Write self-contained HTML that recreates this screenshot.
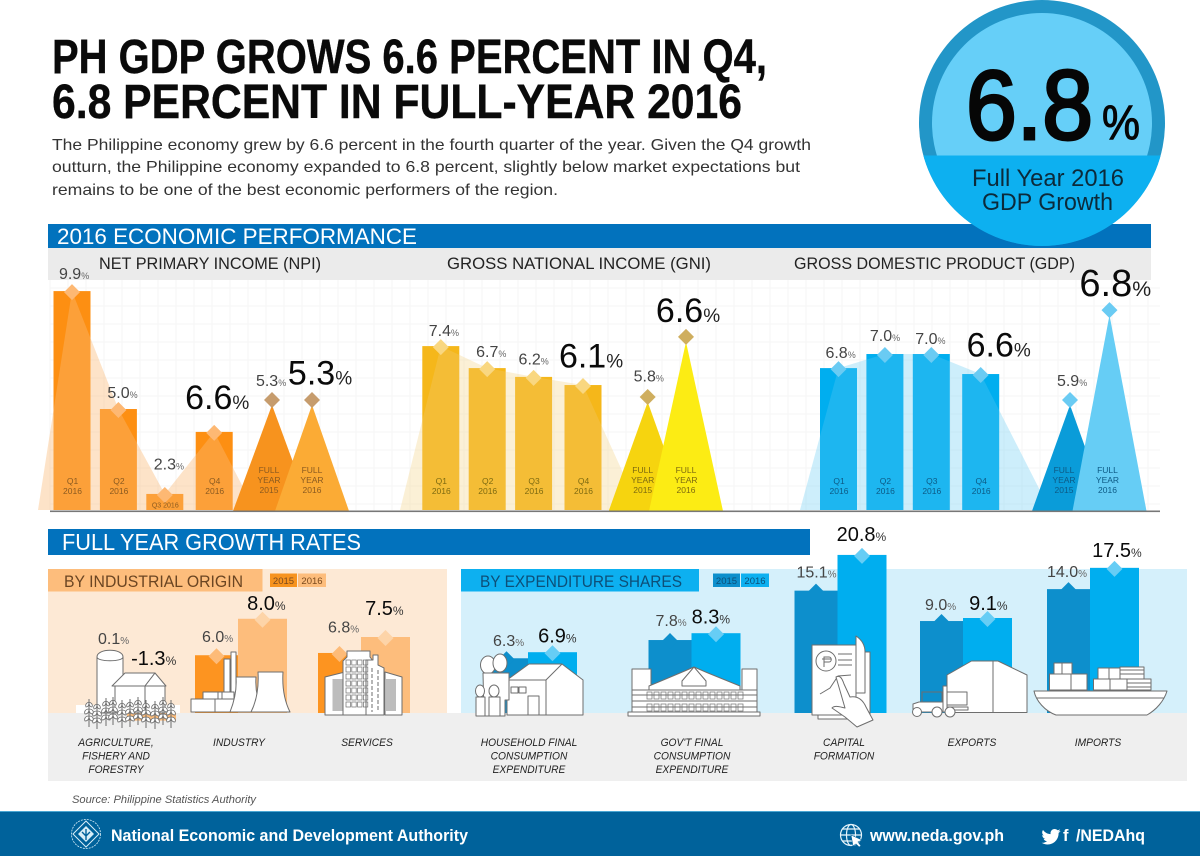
<!DOCTYPE html>
<html lang="en">
<head>
<meta charset="utf-8">
<title>PH GDP Grows 6.6 Percent in Q4</title>
<style>
html,body{margin:0;padding:0;background:#fff;width:1200px;height:856px;overflow:hidden}
svg{display:block;font-family:"Liberation Sans",sans-serif}
.ill{fill:#fff;stroke:#6e6e6e;stroke-width:1;stroke-linejoin:round}
.ill2{fill:none;stroke:#6e6e6e;stroke-width:1}
</style>
</head>
<body>
<svg xmlns="http://www.w3.org/2000/svg" width="1200" height="856" viewBox="0 0 1200 856">
<defs>
<g id="wheat-stalk">
<path d="M0 0V28" class="ill2"/>
<path d="M0 3c-3 1-4 3-3 5 2 0 3-2 3-5zM0 3c3 1 4 3 3 5-2 0-3-2-3-5zM0 10c-4 0-5 3-4 5 3 0 4-2 4-5zM0 10c4 0 5 3 4 5-3 0-4-2-4-5zM0 17c-4 0-5 3-4 5 3 0 4-2 4-5zM0 17c4 0 5 3 4 5-3 0-4-2-4-5z" fill="#fff" stroke="#6e6e6e" stroke-width=".8"/>
</g>
<clipPath id="badge-clip"><circle cx="1042" cy="123" r="123"/></clipPath>
</defs>

<text x="52" y="73" font-size="48" font-weight="700" fill="#0a0a0a" stroke="#0a0a0a" stroke-width=".4" textLength="715" lengthAdjust="spacingAndGlyphs">PH GDP GROWS 6.6 PERCENT IN Q4,</text>
<text x="52" y="118" font-size="48" font-weight="700" fill="#0a0a0a" stroke="#0a0a0a" stroke-width=".4" textLength="690" lengthAdjust="spacingAndGlyphs">6.8 PERCENT IN FULL-YEAR 2016</text>
<g fill="#333" font-size="16">
<text x="52" y="150" textLength="759" lengthAdjust="spacingAndGlyphs">The Philippine economy grew by 6.6 percent in the fourth quarter of the year. Given the Q4 growth</text>
<text x="52" y="172" textLength="748" lengthAdjust="spacingAndGlyphs">outturn, the Philippine economy expanded to 6.8 percent, slightly below market expectations but</text>
<text x="52" y="195" textLength="506" lengthAdjust="spacingAndGlyphs">remains to be one of the best economic performers of the region.</text>
</g>

<rect x="48" y="224" width="1103" height="24" fill="#0272bd"/>
<rect x="48" y="248" width="1103" height="32" fill="#ebebeb"/>
<text x="57" y="244" font-size="22" fill="#fff" textLength="360" lengthAdjust="spacingAndGlyphs">2016 ECONOMIC PERFORMANCE</text>

<g id="gridLayer"></g>

<text x="99" y="269" font-size="16.5" fill="#222" textLength="222" lengthAdjust="spacingAndGlyphs">NET PRIMARY INCOME (NPI)</text>
<text x="447" y="269" font-size="16.5" fill="#222" textLength="264" lengthAdjust="spacingAndGlyphs">GROSS NATIONAL INCOME (GNI)</text>
<text x="794" y="269" font-size="16.5" fill="#222" textLength="281" lengthAdjust="spacingAndGlyphs">GROSS DOMESTIC PRODUCT (GDP)</text>

<g id="quarterLayer"></g>
<rect x="50" y="510.5" width="1110" height="1.6" fill="#777"/>

<g>
<circle cx="1042" cy="123" r="123" fill="#2296c8"/>
<circle cx="1042" cy="123" r="110" fill="#66cff8"/>
<rect x="919" y="155.5" width="246" height="92" fill="#0db0f0" clip-path="url(#badge-clip)"/>
<text x="966" y="139" font-size="98" fill="#060606" stroke="#060606" stroke-width="3" textLength="127" lengthAdjust="spacingAndGlyphs">6.8</text>
<text x="1102" y="139" font-size="48" fill="#060606" stroke="#060606" stroke-width="1" textLength="38" lengthAdjust="spacingAndGlyphs">%</text>
<text x="972" y="186" font-size="24" fill="#0c2a3a" textLength="152" lengthAdjust="spacingAndGlyphs">Full Year 2016</text>
<text x="982" y="210" font-size="24" fill="#0c2a3a" textLength="131" lengthAdjust="spacingAndGlyphs">GDP Growth</text>
</g>

<rect x="48" y="529" width="762" height="26" fill="#0272bd"/>
<text x="62" y="550" font-size="23" fill="#fff" textLength="299" lengthAdjust="spacingAndGlyphs">FULL YEAR GROWTH RATES</text>

<rect x="48" y="569" width="399" height="144" fill="#fde9d5"/>
<rect x="461" y="569" width="726" height="144" fill="#d5f0fb"/>
<rect x="48" y="713" width="1139" height="68" fill="#efefef"/>
<rect x="48" y="569" width="214.5" height="22.5" fill="#fdbd7c"/>
<rect x="461" y="569" width="238" height="22.5" fill="#0db0f0"/>
<text x="64" y="587" font-size="17" fill="#6b4522" textLength="179" lengthAdjust="spacingAndGlyphs">BY INDUSTRIAL ORIGIN</text>
<text x="480" y="587" font-size="17" fill="#0d4f78" textLength="202" lengthAdjust="spacingAndGlyphs">BY EXPENDITURE SHARES</text>

<g>
<rect x="270" y="573.5" width="27" height="13.5" fill="#f7931e"/>
<rect x="298" y="573.5" width="28" height="13.5" fill="#fdbd7c"/>
<text x="283.5" y="584" font-size="9.5" text-anchor="middle" fill="#7a4a1e">2015</text>
<text x="312" y="584" font-size="9.5" text-anchor="middle" fill="#7a4a1e">2016</text>
</g>
<g>
<rect x="713" y="573.5" width="27" height="13.5" fill="#0d8fcc"/>
<rect x="741" y="573.5" width="28" height="13.5" fill="#0db0f0"/>
<text x="726.5" y="584" font-size="9.5" text-anchor="middle" fill="#0d4f78">2015</text>
<text x="755" y="584" font-size="9.5" text-anchor="middle" fill="#0d4f78">2016</text>
</g>

<g id="growthBars"></g>

<rect x="76" y="705" width="104" height="8" fill="#fff"/>

<g>
<path class="ill" d="M97 713V657c0-9 26-9 26 0V713z"/><path class="ill2" d="M97 657c0 5 26 5 26 0"/>
<path class="ill" d="M115 686H165V713H115z"/>
<path class="ill" d="M112 686L125 673H155L145 686z"/><path class="ill" d="M145 686L155 673L166 686z"/>
<path class="ill2" d="M145 686V713"/>
<use href="#wheat-stalk" x="89" y="699"/><use href="#wheat-stalk" x="97" y="701"/><use href="#wheat-stalk" x="106" y="698"/><use href="#wheat-stalk" x="113" y="697"/><use href="#wheat-stalk" x="122" y="700"/><use href="#wheat-stalk" x="130" y="699"/><use href="#wheat-stalk" x="138" y="697"/><use href="#wheat-stalk" x="146" y="700"/><use href="#wheat-stalk" x="155" y="701"/><use href="#wheat-stalk" x="163" y="697"/><use href="#wheat-stalk" x="171" y="700"/>
</g>

<g>
<path class="ill" d="M224 659H230V700H224z"/><path class="ill" d="M231 652H236V700H231z"/>
<path class="ill" d="M203 692H222V700H203zM218 692H234V700H218z"/>
<path class="ill" d="M191 699H215V712H191zM215 699H238V712H215z"/>
<path class="ill" d="M236 677H256C255 690 258 702 263 712H230C234 702 237 690 236 677z"/>
<path class="ill" d="M258 672H283C282 688 285 702 290 712H251C256 702 259 688 258 672z"/>
</g>

<g>
<path class="ill" d="M325 677L345 672V715H325z"/>
<path class="ill" d="M385 672L402 677V715H385z"/>
<rect x="332.500" y="679" width="10" height="32" fill="#bdbdbd"/>
<rect x="386" y="679" width="10" height="32" fill="#bdbdbd"/>
<path class="ill" d="M343 661L347 657V651H370V657L373 661V715H343z"/>
<path class="ill" d="M366 660H373V655H378V665L384 668V715H366z"/>
<path class="ill2" d="M372 668V712M378 670V712" stroke-dasharray="4 2"/>
<g id="cityWindows"></g>
</g>

<g>
<path class="ill" d="M507 680L529 664H562L583 680V715H507z"/>
<path class="ill2" d="M546 715V680L562 664M507 680H546"/>
<path class="ill" d="M528 696H539V715H528zM511 687H518V693H511zM519 687H526V693H519z"/>
<ellipse class="ill" cx="488" cy="665" rx="7.5" ry="9"/><ellipse class="ill" cx="500" cy="663" rx="7" ry="9"/>
<path class="ill" d="M483 673H509V700H505V716H499V700H490V716H484z"/>
<ellipse class="ill" cx="480" cy="691" rx="4.5" ry="6"/><ellipse class="ill" cx="494" cy="691" rx="5" ry="6"/>
<path class="ill" d="M476 697H485V716H476zM489 697H500V716H489z"/>
</g>

<g>
<path class="ill" d="M632 669H651V692H632zM742 669H757V692H742z"/>
<path class="ill" d="M649 686L680 673L694 667L708 673L740 686V692H649z"/>
<path class="ill" d="M682 681L694 667L706 681V686H682z"/>
<path class="ill" d="M632 690H757V712H632z"/>
<path class="ill2" d="M632 695H757M632 701H757M632 707H757"/>
<path class="ill" d="M628 712H760V716H628z"/>
<g id="govWindows"></g>
</g>

<g>
<path class="ill" d="M818 719H870V652H818z"/>
<path class="ill" d="M812 645H856V715H812z"/>
<path class="ill" d="M856 636C862 640 865 645 865 652V693H856z"/>
<circle class="ill" cx="826" cy="661" r="10"/>
<path class="ill2" d="M824 667V657H829C832 657 832 662 829 662H824M822 659H831"/>
<path class="ill2" d="M838 654H852M838 660H852M838 665H852"/>
<path class="ill2" d="M820 694L830 688L838 676L851 675"/>
<path class="ill" d="M836 677C840 675 842 678 844 684L850 697C856 696 862 698 866 707L873 720L857 727L845 717L832 708C835 705 840 707 845 708z"/>
</g>

<g>
<path class="ill" d="M947 675L971.500 661H998L1027 675V712.500H947z"/>
<path class="ill2" d="M993 661V712.500"/>
<path class="ill" d="M947 692H967V705H947z"/>
<path d="M922 692H942V708H922z" fill="none" stroke="#6e6e6e"/>
<path class="ill" d="M913 712V704L919 702H946V712z"/>
<path class="ill" d="M943 686H947V712H943z"/>
<path class="ill" d="M947 707H968V710H947z"/>
<circle class="ill" cx="917" cy="712" r="4.500"/><circle class="ill" cx="937" cy="712" r="5"/><circle class="ill" cx="950" cy="712" r="5"/>
</g>

<g>
<path class="ill" d="M1049.500 674H1087V690H1049.500z"/>
<path class="ill2" d="M1071 674V690"/>
<path class="ill" d="M1054 663H1062V674H1054zM1062 663H1072V674H1062z"/>
<path class="ill" d="M1120 667H1144V679H1120z"/><path class="ill" d="M1127 679H1151V690H1127z"/>
<path class="ill2" d="M1120 670H1144M1120 674H1144M1127 683H1151M1127 687H1151"/>
<path class="ill" d="M1098 668H1120V679H1098z"/><path class="ill2" d="M1109 668V679"/>
<path class="ill" d="M1093.500 679H1127V690H1093.500z"/><path class="ill2" d="M1110 679V690"/>
<path class="ill" d="M1034 691H1167C1164 701 1156 710 1147 715H1056C1045 711 1036 701 1034 691z"/>
<path class="ill2" d="M1037 698H1164"/>
</g>

<g id="growthLabels"></g>

<text x="72" y="803" font-size="11" font-style="italic" fill="#555" textLength="184" lengthAdjust="spacingAndGlyphs">Source: Philippine Statistics Authority</text>

<rect x="0" y="811" width="1200" height="45" fill="#00629b"/>
<rect x="0" y="811" width="1200" height="1" fill="#4aa7d4"/>
<g fill="none" stroke="#d8eef8">
<circle cx="86" cy="834" r="14.5" stroke-width=".8" stroke-dasharray="2 1"/>
<path d="M86 821L99 834L86 847L73 834z" stroke-width="1"/>
<path d="M86 826L94 834L86 842L78 834z" fill="#d8eef8" stroke="none"/>
<path d="M86 829V840M82 832L86 836L90 832" stroke="#00629b" stroke-width="1.4"/>
</g>
<text x="111" y="841" font-size="16.5" font-weight="700" fill="#fff" textLength="357" lengthAdjust="spacingAndGlyphs">National Economic and Development Authority</text>
<g fill="none" stroke="#e8f5fb" stroke-width="1.2">
<circle cx="851" cy="835" r="10.5"/><ellipse cx="851" cy="835" rx="4.5" ry="10.5"/><path d="M840.5 835H861.5M842 829H860M842 841H860"/>
<path d="M851 835L862 840L858 842L861 846L859 847L856 844L853 846z" fill="#fff" stroke="#00629b" stroke-width=".6"/>
</g>
<text x="870" y="841" font-size="16.5" font-weight="700" fill="#fff" textLength="134" lengthAdjust="spacingAndGlyphs">www.neda.gov.ph</text>
<path d="M1043 830c2 2.600 4.500 4 7.600 4.100-.5-2.900 1.500-5.100 4-5.100 1.200 0 2.300.5 3 1.300.9-.2 1.800-.5 2.500-1-.3 1-.9 1.700-1.700 2.200.8-.1 1.500-.3 2.200-.6-.5.800-1.200 1.500-2 2 .2 6-4.300 11.600-11 11.600-2.200 0-4.200-.6-5.900-1.700 1.900.2 3.800-.3 5.300-1.500-1.600 0-2.900-1.100-3.400-2.500.5.100 1.100.1 1.600-.1-1.700-.4-3-1.900-3-3.700.5.300 1.100.5 1.600.5-1.600-1.100-2.100-3.300-1.100-5z" fill="#fff"/>
<text x="1063" y="841" font-size="16.5" font-weight="700" fill="#fff">f</text>
<text x="1076" y="841" font-size="16.5" font-weight="700" fill="#fff" textLength="69" lengthAdjust="spacingAndGlyphs">/NEDAhq</text>

<script>
// ---- Quarterly charts: levels; printed values as labelled ----
const quarterCategories = [['Q1','2016'],['Q2','2016'],['Q3','2016'],['Q4','2016']];
const fullYearCategories = [['FULL','YEAR','2015'],['FULL','YEAR','2016']];
const npiQuarterLevels = [9.95, 4.59, 0.73, 3.55];
const npiYearLevels = [4.77, 4.77];
const npiQuarterPrinted = ['9.9','5.0','2.3','6.6'];
const npiYearPrinted = ['5.3','5.3'];
const gniQuarterLevels = [7.45, 6.45, 6.05, 5.68];
const gniYearLevels = [4.91, 7.64];
const gniQuarterPrinted = ['7.4','6.7','6.2','6.1'];
const gniYearPrinted = ['5.8','6.6'];
const gdpQuarterLevels = [6.45, 7.09, 7.09, 6.18];
const gdpYearLevels = [4.77, 8.86];
const gdpQuarterPrinted = ['6.8','7.0','7.0','6.6'];
const gdpYearPrinted = ['5.9','6.8'];

// ---- Full-year growth charts ----
const growthCategories = [['AGRICULTURE,','FISHERY AND','FORESTRY'],['INDUSTRY'],['SERVICES'],['HOUSEHOLD FINAL','CONSUMPTION','EXPENDITURE'],["GOV'T FINAL",'CONSUMPTION','EXPENDITURE'],['CAPITAL','FORMATION'],['EXPORTS'],['IMPORTS']];
const growthLevels2015 = [0.1, 7.6, 7.9, 7.2, 9.6, 16.1, 12.1, 16.3];
const growthLevels2016 = [-1.0, 12.4, 10.0, 8.0, 10.5, 20.8, 12.5, 19.1];
const growthPrinted2015 = ['0.1','6.0','6.8','6.3','7.8','15.1','9.0','14.0'];
const growthPrinted2016 = ['-1.3','8.0','7.5','6.9','8.3','20.8','9.1','17.5'];

const NS = 'http://www.w3.org/2000/svg';
function make(parent, tag, attrs, txt) {
  const n = document.createElementNS(NS, tag);
  for (const k in attrs) n.setAttribute(k, attrs[k]);
  if (txt !== undefined) n.textContent = txt;
  parent.appendChild(n);
  return n;
}
const baseQuarter = 510;
const baseGrowth = 713;
const yQuarter = v => baseQuarter - v * 22;
const yGrowth = v => baseGrowth - v * 7.6;
const xQuarter = (x0, i) => x0 + i * 46.4 + (i === 3 ? 3 : 0);

// Background grid
const gridLayer = document.getElementById('gridLayer');
for (let gx = 50; gx <= 1160; gx += 18) {
  const gl = make(gridLayer, 'line', {x1: gx, x2: gx, y1: 280, y2: 510, stroke: '#f6f6f6', 'stroke-width': 1});
  
  
}
for (let gy = 288; gy <= 510; gy += 18) {
  const gl = make(gridLayer, 'line', {x1: 50, x2: 1160, y1: gy, y2: gy, stroke: '#f6f6f6', 'stroke-width': 1});
  
  
}

function valueLabel(parent, cx, cy, printed, size, pctSize, color, pctColor) {
  const w = printed.length * size * 0.5 + pctSize * 0.9;
  const t = make(parent, 'text', {x: cx - w / 2, y: cy + size * 0.36, 'font-size': size, fill: color});
  make(t, 'tspan', {}, printed);
  make(t, 'tspan', {'font-size': pctSize, fill: pctColor}, '%');
  return t;
}
function diamond(parent, cx, cy, half, fill) {
  return make(parent, 'polygon', {points: [cx, cy - half, cx + half, cy, cx, cy + half, cx - half, cy].join(' '), fill: fill});
}

function drawQuarterPanel(key, cfg, levels, yearLevels, printed, yearPrinted) {
  const g = make(document.getElementById('quarterLayer'), 'g', {});
  
  
  const tops = levels.map((v, i) => [xQuarter(cfg.x0, i) + 18.5, yQuarter(v)]);
  const pts = [[cfg.left, baseQuarter]].concat(tops, [[cfg.right, baseQuarter]]).map(p => p.join(',')).join(' ');
  levels.forEach((v, i) => {
    const bar = make(g, 'rect', {x: xQuarter(cfg.x0, i), y: yQuarter(v), width: 37, height: baseQuarter - yQuarter(v), fill: cfg.bar});
    
    
  });
  const veil = make(g, 'polygon', {points: pts, fill: cfg.veil});
  
  
  yearLevels.forEach((v, i) => {
    const ax = cfg.yearX[i];
    const tri = make(g, 'polygon', {points: [ax - cfg.yearHalf[i], baseQuarter + 1, ax, yQuarter(v), ax + cfg.yearHalf[i], baseQuarter + 1].join(' '), fill: cfg.yearFill[i]});
    
    
  });
  tops.forEach((p, i) => {
    const d = diamond(g, p[0], p[1] + 1, 8, cfg.diamond);
    
    
  });
  yearLevels.forEach((v, i) => {
    const d = diamond(g, cfg.yearX[i], yQuarter(v) - 5, 8, cfg.yearDiamond);
    
    
  });
  // Category captions inside the marks
  quarterCategories.forEach((c, i) => {
    const cx = xQuarter(cfg.x0, i) + 19;
    if (levels[i] < 1.5) {
      const t = make(g, 'text', {x: cx, y: 507.5, 'font-size': 7, 'text-anchor': 'middle', fill: cfg.caption}, c.join(' '));
      
      
    } else {
      c.forEach((line, j) => {
        const t = make(g, 'text', {x: cx, y: 484 + j * 10, 'font-size': 8.5, 'text-anchor': 'middle', fill: cfg.caption}, line);
        
        
      });
    }
  });
  fullYearCategories.forEach((c, i) => {
    c.forEach((line, j) => {
      const t = make(g, 'text', {x: cfg.yearX[i] + cfg.yearCaptionDx[i], y: 473 + j * 10, 'font-size': 8.5, 'text-anchor': 'middle', fill: cfg.caption}, line);
      
      
    });
  });
  // Value labels
  printed.forEach((p, i) => {
    const big = i === 3;
    const n = cfg.nudge[i];
    const t = big ? valueLabel(g, tops[i][0] + n[0], tops[i][1] + n[1], p, 34, 19, '#0a0a0a', '#222')
                  : valueLabel(g, tops[i][0] + n[0], tops[i][1] + n[1], p, 16, 9, '#444', '#666');
    
    
  });
  yearPrinted.forEach((p, i) => {
    const big = i === 1;
    const n = cfg.yearNudge[i];
    const s = big ? cfg.bigSize : 16;
    const t = valueLabel(g, cfg.yearX[i] + n[0], yQuarter(yearLevels[i]) + n[1], p, s, big ? s * 0.56 : 9, big ? '#0a0a0a' : '#444', big ? '#222' : '#666');
    
    
  });
}

drawQuarterPanel('npi', {
  x0: 53.5, left: 38, right: 255, bar: '#fd8f12', veil: 'rgba(250,185,117,.4)', diamond: '#fdb873',
  yearX: [272, 312], yearHalf: [39, 37], yearFill: ['#f7931e', '#fbab35'], yearDiamond: '#c69c6d', yearCaptionDx: [-3, 0], caption: '#8a5a20', bigSize: 34,
  nudge: [[3, -18], [5, -17], [5, -30], [5, -35]], yearNudge: [[0, -25], [10, -33]]
}, npiQuarterLevels, npiYearLevels, npiQuarterPrinted, npiYearPrinted);

drawQuarterPanel('gni', {
  x0: 422.3, left: 400, right: 640, bar: '#f5b71a', veil: 'rgba(241,205,118,.3)', diamond: '#f9d780',
  yearX: [647.7, 686], yearHalf: [39, 37], yearFill: ['#f6d40f', '#fcec14'], yearDiamond: '#cfae5e', yearCaptionDx: [-5, 0], caption: '#7d6a10', bigSize: 34,
  nudge: [[4, -16], [5, -17], [1, -18], [10, -30]], yearNudge: [[2, -26], [4, -32]]
}, gniQuarterLevels, gniYearLevels, gniQuarterPrinted, gniYearPrinted);

drawQuarterPanel('gdp', {
  x0: 820, left: 800, right: 1050, bar: '#00aeef', veil: 'rgba(94,200,242,.31)', diamond: '#6acbf3',
  yearX: [1070, 1109.5], yearHalf: [38, 37], yearFill: ['#0a9cd9', '#66cdf5'], yearDiamond: '#6acbf3', yearCaptionDx: [-6, -2], caption: '#0d5a85', bigSize: 38,
  nudge: [[3, -16], [1, -19], [0, -16], [20, -30]], yearNudge: [[3, -25], [8, -33]]
}, gdpQuarterLevels, gdpYearLevels, gdpQuarterPrinted, gdpYearPrinted);

// Full-year growth bars and labels
function drawGrowth() {
  const barsG = document.getElementById('growthBars');
  const labelsG = document.getElementById('growthLabels');
  const groupLeft = [84, 195, 318, 485, 648.5, 794.5, 920, 1047];
  const captionX = [116, 239, 367, 529, 692, 844, 972, 1098];
  const nudge2015 = [[9, 0], [2, -19], [5, -26], [3, -18], [2, -20], [1, -19], [0, -17], [-1, -18]];
  const nudge2016 = [[5, -55], [5, -16], [0, -29], [6, -17], [-4, -17], [0, -21], [2, -15], [3, -18]];
  growthCategories.forEach((cat, i) => {
    const warm = i < 3;
    const x15 = groupLeft[i], x16 = x15 + 43;
    const v15 = growthLevels2015[i], v16 = growthLevels2016[i];
    const c15 = warm ? '#fd9420' : '#0d8fcc', c16 = warm ? '#fdbd7c' : '#00aeef';
    const d15 = warm ? '#fdbb78' : '#0d8fcc', d16 = warm ? '#fdd4a8' : '#66cdf5';
    const key = cat[0].toLowerCase().replace(/[^a-z]+/g, '-').replace(/-$/, '');
    const bar15 = make(barsG, 'rect', {x: x15, y: Math.min(yGrowth(v15), baseGrowth), width: 43, height: Math.abs(baseGrowth - yGrowth(v15)), fill: c15});
    
    
    const bar16 = make(barsG, 'rect', {x: x16, y: Math.min(yGrowth(v16), baseGrowth), width: 49, height: Math.abs(baseGrowth - yGrowth(v16)), fill: c16});
    
    
    if (v15 > 1) {
      const m = diamond(barsG, x15 + 21.5, yGrowth(v15) + 1, 8, d15);
      
      
    }
    if (v16 > 1) {
      const m = diamond(barsG, x16 + 24.5, yGrowth(v16) + 1, 8, d16);
      
      
    }
    const a = nudge2015[i], b = nudge2016[i];
    const anchor15 = i === 0 ? 638 - a[1] : yGrowth(v15);
    const t15 = valueLabel(labelsG, x15 + 21.5 + a[0], anchor15 + a[1], growthPrinted2015[i], 16, 10, '#444', '#666');
    
    
    const t16 = valueLabel(labelsG, x16 + 24.5 + b[0], (i === 0 ? 713 : yGrowth(v16)) + b[1], growthPrinted2016[i], 20, 12, '#0a0a0a', '#333');
    
    
    cat.forEach((line, j) => {
      const t = make(labelsG, 'text', {x: captionX[i], y: 746 + j * 13.5, 'font-size': 11, 'font-style': 'italic', 'text-anchor': 'middle', fill: '#222'}, line);
      
      
      t.setAttribute('textLength', (t.getComputedTextLength() * 0.93).toFixed(1));
      t.setAttribute('lengthAdjust', 'spacingAndGlyphs');
    });
  });
}
drawGrowth();

// Decorative window grids on the illustrations
const cw = document.getElementById('cityWindows');
for (let r = 0; r < 7; r++) for (let c = 0; c < 4; c++) {
  const w = make(cw, 'rect', {x: 346 + c * 5.8, y: 660 + r * 7, width: 4.4, height: 5, fill: 'none', stroke: '#6e6e6e', 'stroke-width': .7});
  
  
}
const gw = document.getElementById('govWindows');
for (let r = 0; r < 2; r++) for (let c = 0; c < 14; c++) {
  const w = make(gw, 'rect', {x: 647 + c * 7, y: 692 + r * 12, width: 5, height: 7, fill: 'none', stroke: '#6e6e6e', 'stroke-width': .7});
  
  
}
</script>
</svg>
</body>
</html>
